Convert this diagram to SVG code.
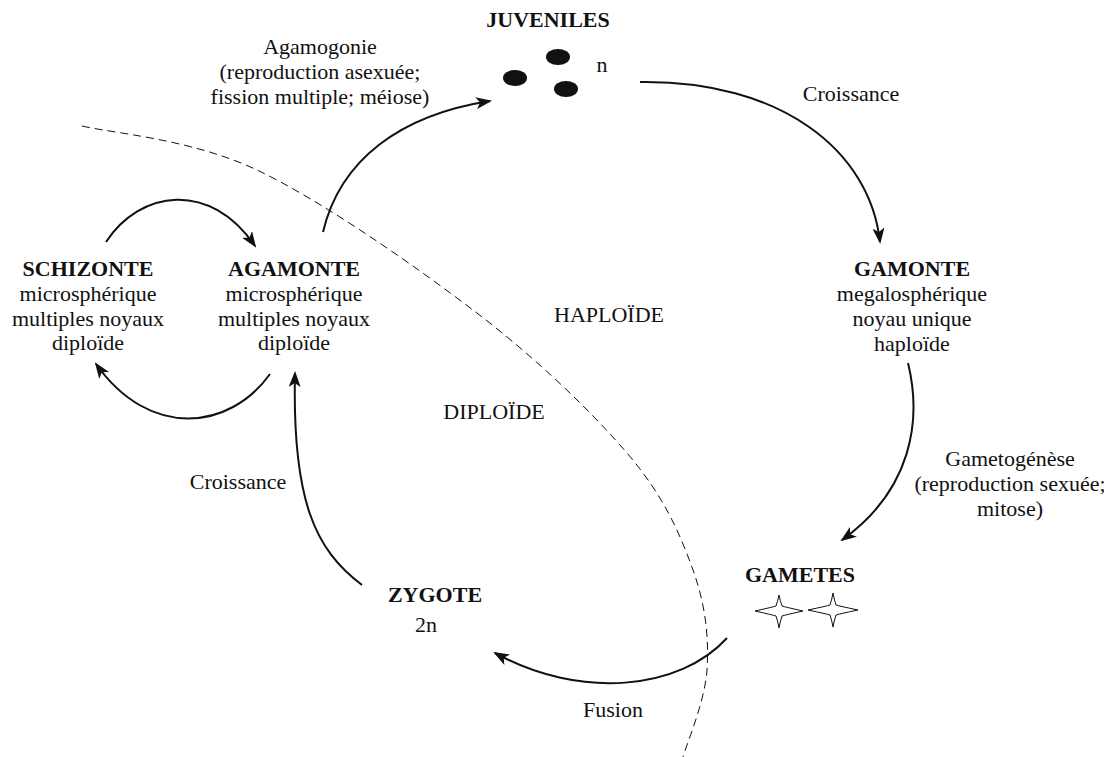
<svg xmlns="http://www.w3.org/2000/svg" width="1104" height="757" viewBox="0 0 1104 757">
<defs>
<style>
text{font-family:"Liberation Serif","Times New Roman",serif;font-size:22px;fill:#111;text-anchor:middle}
.b{font-weight:bold}
.c{fill:none;stroke:#111;stroke-width:2}
.d{fill:none;stroke:#111;stroke-width:1;stroke-dasharray:8 5}
.s{fill:#fff;stroke:#111;stroke-width:1}
</style>
<marker id="ah" viewBox="0 0 16 12" refX="14" refY="6" markerWidth="16" markerHeight="12" markerUnits="userSpaceOnUse" orient="auto">
<path d="M0,0 L16,6 L0,12 L4,6 z" fill="#111"/>
</marker>
</defs>
<rect width="1104" height="757" fill="#fff"/>
<g id="boundary">
<path class="d" d="M82,126 C111,133 192,139 257,170 C322,201 411,263 473,310 C535,357 590,410 627,453 C664,496 680,534 693,570 C706,606 709,639 707,670 C705,701 687,743 683,757"/>
<text x="609" y="322">HAPLOÏDE</text>
<text x="494" y="419">DIPLOÏDE</text>
</g>
<g id="connectors">
<path class="c" d="M106,242 C140,190 210,180 255,246" marker-end="url(#ah)"/>
<path class="c" d="M270,374 C230,430 150,440 96,364" marker-end="url(#ah)"/>
<path class="c" d="M323,232 C340,160 400,115 490,101" marker-end="url(#ah)"/>
<path class="c" d="M640,82 C780,80 870,150 880,242" marker-end="url(#ah)"/>
<path class="c" d="M908,363 C922,420 912,490 842,540" marker-end="url(#ah)"/>
<path class="c" d="M727,638 C680,690 580,700 495,653" marker-end="url(#ah)"/>
<path class="c" d="M362,585 C315,550 292,500 295,373" marker-end="url(#ah)"/>
</g>
<g id="label-agamogonie">
<text x="320" y="54">Agamogonie</text>
<text x="320" y="79">(reproduction asexuée;</text>
<text x="320" y="104">fission multiple; méiose)</text>
</g>
<g id="label-croissance1"><text x="851" y="101">Croissance</text></g>
<g id="label-gametogenese">
<text x="1010" y="466">Gametogénèse</text>
<text x="1010" y="491">(reproduction sexuée;</text>
<text x="1010" y="516">mitose)</text>
</g>
<g id="label-fusion"><text x="613" y="717">Fusion</text></g>
<g id="label-croissance2"><text x="238" y="489">Croissance</text></g>
<g id="juveniles">
<text class="b" x="548" y="27">JUVENILES</text>
<ellipse cx="558" cy="57" rx="12" ry="8" fill="#111"/>
<ellipse cx="515" cy="78" rx="12" ry="8" fill="#111"/>
<ellipse cx="566" cy="89" rx="12" ry="8" fill="#111"/>
<text x="602" y="72">n</text>
</g>
<g id="gamonte">
<text class="b" x="912" y="276">GAMONTE</text>
<text x="912" y="301">megalosphérique</text>
<text x="912" y="326">noyau unique</text>
<text x="912" y="351">haploïde</text>
</g>
<g id="gametes">
<text class="b" x="800" y="582">GAMETES</text>
<path class="s" d="M755,611 Q773,607 776,606 Q778,600 779,595 Q780,600 782,606 Q785,607 803,611 Q785,615 782,616 Q780,622 779,628 Q778,622 776,616 Q773,615 755,611 z"/>
<path class="s" d="M808,610 Q827,606 830,605 Q832,599 833,593 Q834,599 836,605 Q839,606 858,610 Q839,614 836,615 Q834,621 833,627 Q832,621 830,615 Q827,614 808,610 z"/>
</g>
<g id="zygote">
<text class="b" x="435" y="602">ZYGOTE</text>
<text x="426" y="632">2n</text>
</g>
<g id="agamonte">
<text class="b" x="294" y="276">AGAMONTE</text>
<text x="294" y="301">microsphérique</text>
<text x="294" y="326">multiples noyaux</text>
<text x="294" y="350">diploïde</text>
</g>
<g id="schizonte">
<text class="b" x="88" y="276">SCHIZONTE</text>
<text x="88" y="301">microsphérique</text>
<text x="88" y="326">multiples noyaux</text>
<text x="88" y="350">diploïde</text>
</g>
</svg>
